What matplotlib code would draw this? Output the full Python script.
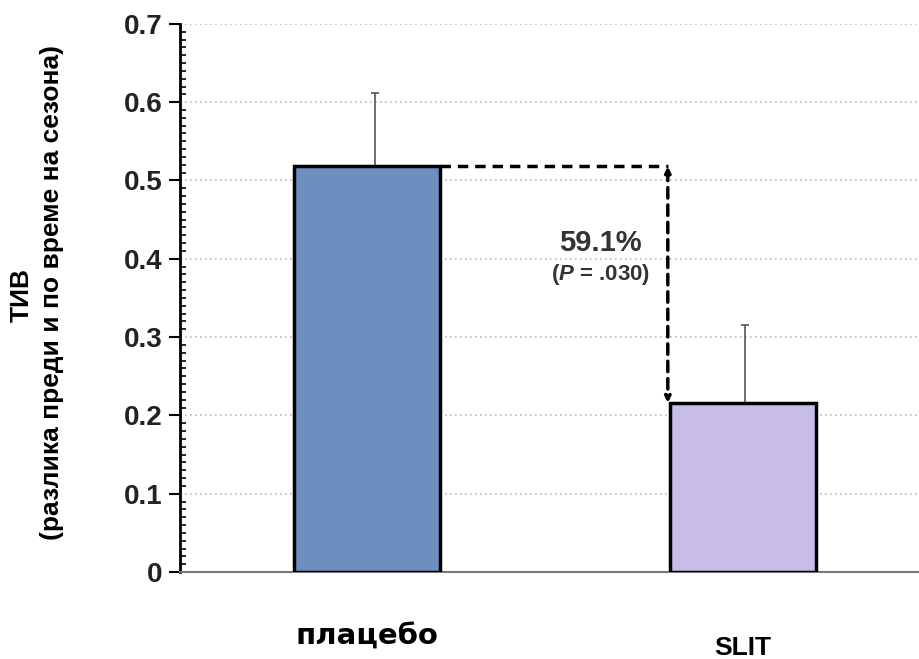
import matplotlib.pyplot as plt
from matplotlib.ticker import MultipleLocator

plt.rcParams['font.family'] = ['Liberation Sans', 'DejaVu Sans']
plt.rcParams['mathtext.fontset'] = 'custom'
plt.rcParams['mathtext.bfit'] = 'Liberation Sans:bold:italic'

groups = ['плацебо', 'SLIT']
means = [0.518, 0.216]
err_up = [0.094, 0.099]
colors = ['#6c8fbf', '#c7bde6']
yticks = [0, 0.1, 0.2, 0.3, 0.4, 0.5, 0.6, 0.7]
ytick_labels = ['0', '0.1', '0.2', '0.3', '0.4', '0.5', '0.6', '0.7']

fig = plt.figure(figsize=(9.2, 6.59), dpi=100)
ax = fig.add_axes([0.196, 0.132, 0.804, 0.8318])

x = [0, 1]
ax.bar(x, means, width=0.39, color=colors, edgecolor='black', linewidth=2.5, zorder=3)
ax.errorbar([0.022, 1.005], means, yerr=[[0, 0], err_up], fmt='none', ecolor='#555555',
            elinewidth=1.2, capsize=3, capthick=1.2, zorder=2)

ax.set_xlim(-0.497, 1.471)
ax.set_ylim(0, 0.7)
ax.set_yticks(yticks)
ax.set_yticklabels(ytick_labels, fontsize=20, fontweight='bold', color='#222222')
ax.yaxis.set_minor_locator(MultipleLocator(0.01))
ax.tick_params(axis='y', which='major', direction='out', length=8, width=1.5, pad=5)
ax.tick_params(axis='y', which='minor', direction='in', length=4, width=1.2)
ax.set_xticks([])
ax.grid(axis='y', linestyle=(0, (1, 2)), color='#bbbbbb', linewidth=1.2, zorder=0)

for s in ['top', 'right']:
    ax.spines[s].set_visible(False)
ax.spines['left'].set_linewidth(2)
ax.spines['bottom'].set_color('#777777')
ax.spines['bottom'].set_linewidth(1.5)

# dashed comparison arrow
xr = x[0] + 0.39 / 2
xa = 0.8
ax.plot([xr, xa], [means[0], means[0]], color='black', linestyle=(0, (3, 2)), linewidth=2.5, zorder=4)
ax.annotate('', xy=(xa, means[1]), xytext=(xa, means[0]),
            arrowprops=dict(arrowstyle='<|-|>', linestyle=(0, (3, 2)), lw=2.5, color='black',
                            mutation_scale=8, shrinkA=0, shrinkB=0), zorder=4)
ax.text(0.62, 0.42, '59.1%', ha='center', va='center', fontsize=21, fontweight='bold', color='#333333')
ax.text(0.62, 0.38, r'($\mathbfit{P}$ = .030)', ha='center', va='center', fontsize=16,
        fontweight='bold', color='#333333')

# category labels
fig.text(367 / 920, 1 - 637 / 659, groups[0], ha='center', va='center', fontsize=21,
         fontweight='bold', family='DejaVu Sans')
fig.text(743 / 920, 1 - 648 / 659, groups[1], ha='center', va='center', fontsize=19, fontweight='bold')

fig.text(22 / 920, 1 - 295 / 659, 'ТИВ', rotation=90, ha='center', va='center', fontsize=19, fontweight='bold')
fig.text(52 / 920, 1 - 292 / 659, '(разлика преди и по време на сезона)', rotation=90,
         ha='center', va='center', fontsize=19, fontweight='bold')

fig.savefig('out.png', dpi=100)
